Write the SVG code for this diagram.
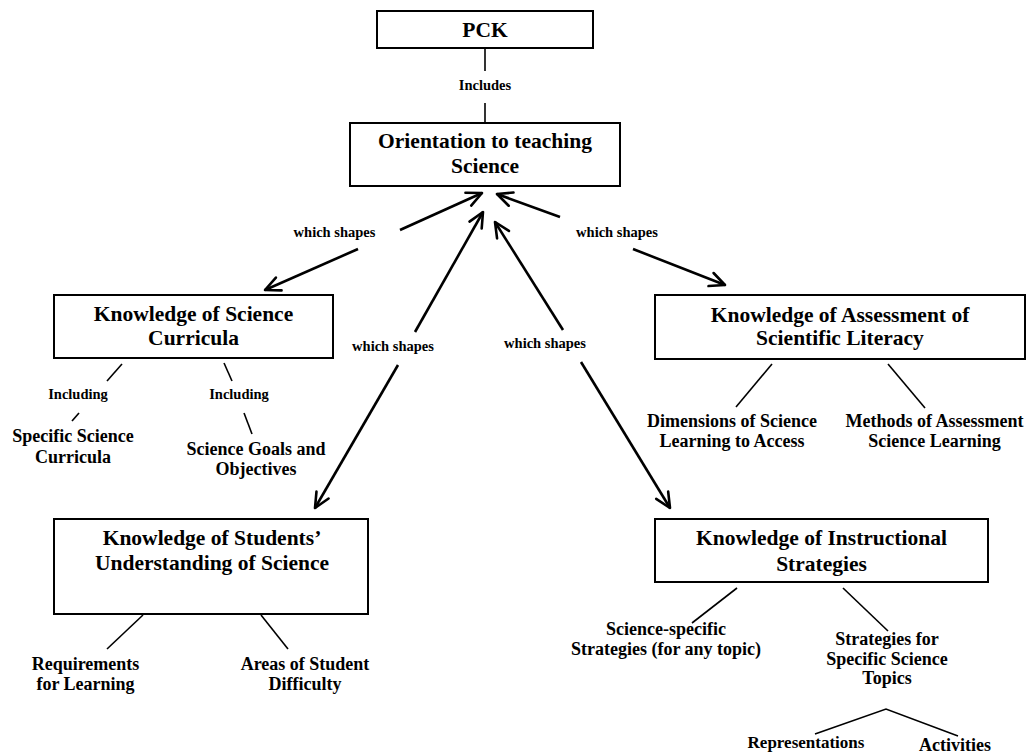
<svg xmlns="http://www.w3.org/2000/svg" width="1028" height="753" viewBox="0 0 1028 753">
<style>
text{font-family:"Liberation Serif","Times New Roman",serif;font-weight:bold;fill:#000;text-anchor:middle}
.t{font-size:21.5px}
.s{font-size:18px}
.l{font-size:14.5px}
.box{fill:#fff;stroke:#000;stroke-width:2}
.arr{fill:none;stroke:#000;stroke-width:2.6;marker-end:url(#ah)}
.ln{fill:none;stroke:#000;stroke-width:1.6}
</style>
<defs>
<marker id="ah" viewBox="0 0 20 20" refX="18" refY="10" markerUnits="userSpaceOnUse" markerWidth="20" markerHeight="20" orient="auto">
<path d="M3,3 L18,10 L3,17" fill="none" stroke="#000" stroke-width="2.6" stroke-linejoin="round" stroke-linecap="round"/>
</marker>
</defs>
<rect width="1028" height="753" fill="#fff"/>
<g id="connectors">
<line class="ln" x1="485" y1="48" x2="485" y2="71"/>
<line class="ln" x1="485" y1="103" x2="485" y2="123"/>
<path class="arr" d="M400,230 L482,193"/>
<path class="arr" d="M358,249 L265,290"/>
<path class="arr" d="M415,332 L483,212"/>
<path class="arr" d="M398,365 L315,508"/>
<path class="arr" d="M563,330 L495,222"/>
<path class="arr" d="M581,362 L670,508"/>
<path class="arr" d="M560,217 L497,194"/>
<path class="arr" d="M633,249 L725,285"/>
<line class="ln" x1="122" y1="364" x2="107" y2="381"/>
<line class="ln" x1="79" y1="413" x2="72" y2="421"/>
<line class="ln" x1="224" y1="363" x2="232" y2="381"/>
<line class="ln" x1="244" y1="413" x2="252" y2="434"/>
<line class="ln" x1="772" y1="364" x2="736" y2="407"/>
<line class="ln" x1="888" y1="364" x2="925" y2="408"/>
<line class="ln" x1="143" y1="615" x2="107" y2="649"/>
<line class="ln" x1="261" y1="615" x2="288" y2="649"/>
<line class="ln" x1="737" y1="588" x2="692" y2="623"/>
<line class="ln" x1="843" y1="588" x2="888" y2="631"/>
<polyline class="ln" points="815,734 886,709 958,736"/>
<text class="l" x="485" y="90">Includes</text>
<text class="l" x="334.5" y="237">which shapes</text>
<text class="l" x="617" y="237">which shapes</text>
<text class="l" x="393" y="351">which shapes</text>
<text class="l" x="545" y="348">which shapes</text>
<text class="l" x="78" y="399">Including</text>
<text class="l" x="239" y="399">Including</text>
</g>
<g id="pck">
<rect class="box" x="377" y="11" width="216" height="37"/>
<text class="t" x="485" y="37">PCK</text>
</g>
<g id="orientation">
<rect class="box" x="350" y="123" width="270" height="63"/>
<text class="t" x="485" y="148">Orientation to teaching</text>
<text class="t" x="485" y="173">Science</text>
</g>
<g id="curricula">
<rect class="box" x="54" y="295" width="279" height="63"/>
<text class="t" x="193.5" y="321">Knowledge of Science</text>
<text class="t" x="193.5" y="345">Curricula</text>
</g>
<g id="assessment">
<rect class="box" x="655" y="295" width="370" height="64"/>
<text class="t" x="840" y="321.5">Knowledge of Assessment of</text>
<text class="t" x="840" y="345">Scientific Literacy</text>
</g>
<g id="students">
<rect class="box" x="54" y="519" width="314" height="95"/>
<text class="t" x="212" y="545">Knowledge of Students’</text>
<text class="t" x="212" y="570">Understanding of Science</text>
</g>
<g id="instructional">
<rect class="box" x="655" y="519" width="333" height="63"/>
<text class="t" x="821.5" y="545">Knowledge of Instructional</text>
<text class="t" x="821.5" y="571">Strategies</text>
</g>
<g id="specific-curricula">
<text class="s" x="73" y="442">Specific Science</text>
<text class="s" x="73" y="463">Curricula</text>
</g>
<g id="goals">
<text class="s" x="256" y="455">Science Goals and</text>
<text class="s" x="256" y="475">Objectives</text>
</g>
<g id="dimensions">
<text class="s" x="732" y="427">Dimensions of Science</text>
<text class="s" x="732" y="447">Learning to Access</text>
</g>
<g id="methods">
<text class="s" x="934.5" y="427">Methods of Assessment</text>
<text class="s" x="934.5" y="447">Science Learning</text>
</g>
<g id="requirements">
<text class="s" x="85.5" y="670">Requirements</text>
<text class="s" x="85.5" y="690">for Learning</text>
</g>
<g id="difficulty">
<text class="s" x="305" y="670">Areas of Student</text>
<text class="s" x="305" y="690">Difficulty</text>
</g>
<g id="science-specific">
<text class="s" x="666" y="635">Science-specific</text>
<text class="s" x="666" y="655">Strategies (for any topic)</text>
</g>
<g id="topic-strategies">
<text class="s" x="887" y="645">Strategies for</text>
<text class="s" x="887" y="665">Specific Science</text>
<text class="s" x="887" y="684">Topics</text>
</g>
<g id="representations">
<text class="s" x="806" y="748" style="font-size:17px">Representations</text>
</g>
<g id="activities">
<text class="s" x="955" y="751">Activities</text>
</g>
</svg>
